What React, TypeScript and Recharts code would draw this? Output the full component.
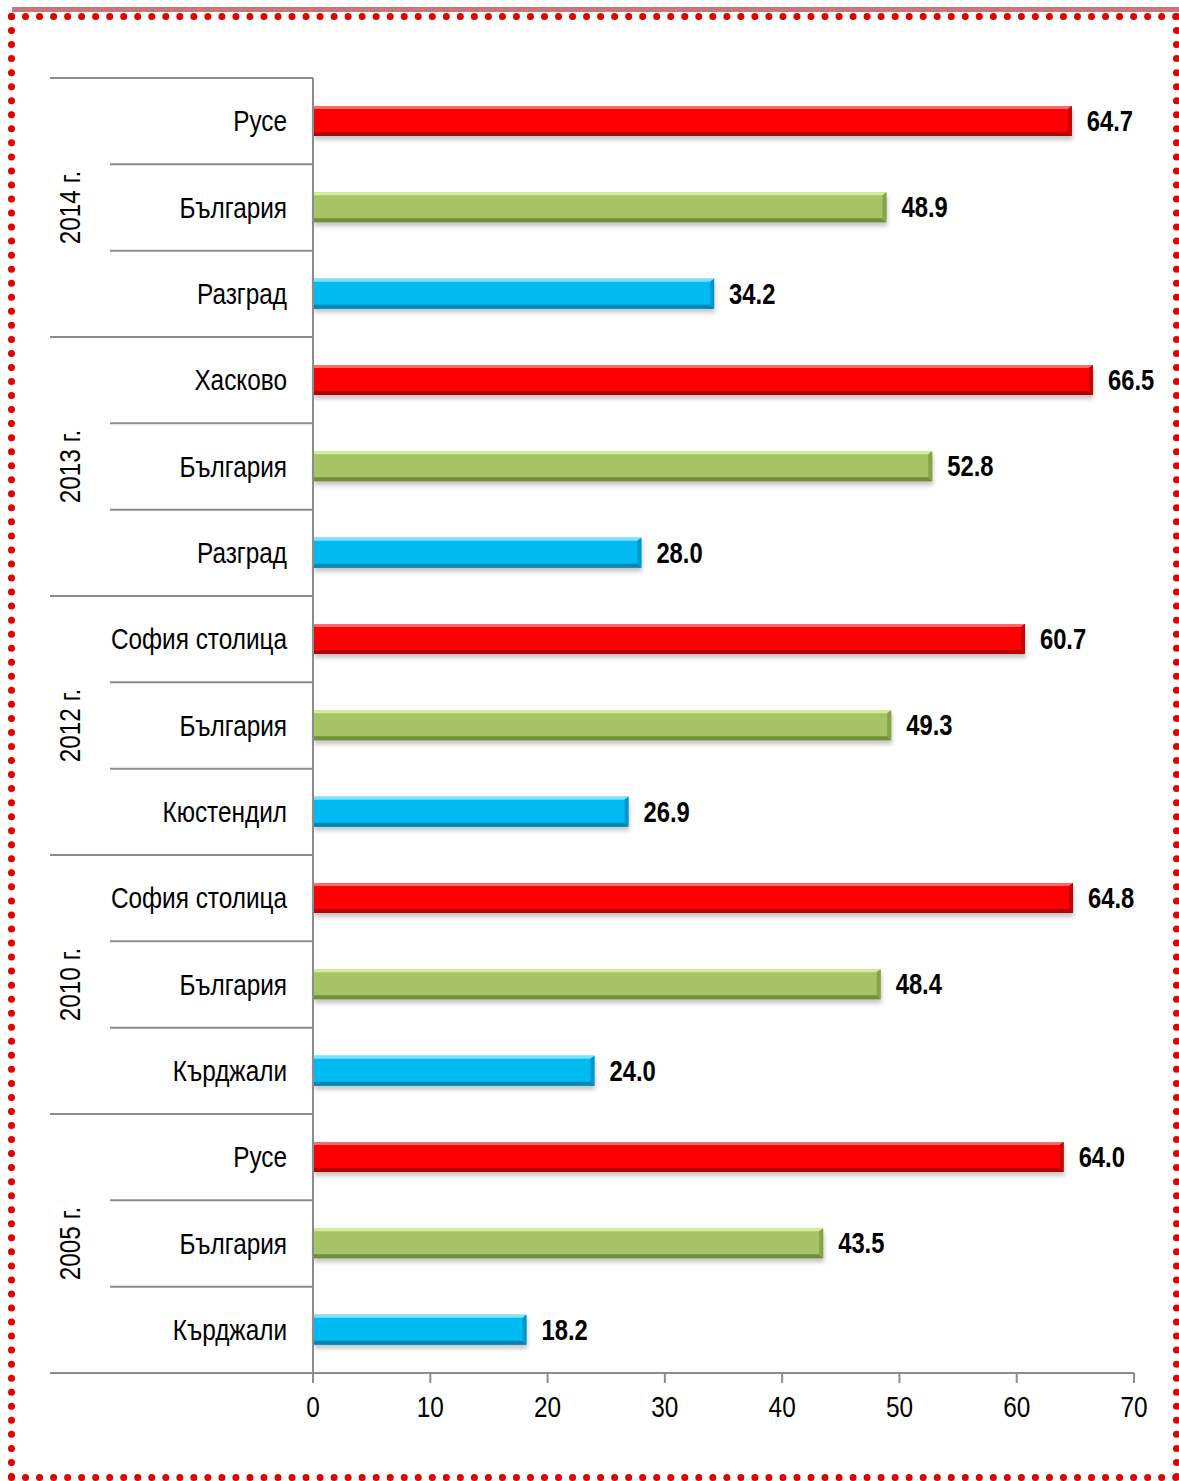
import React from 'react';
import { BarChart, Bar, XAxis, YAxis, Cell, LabelList } from 'recharts';

const categories = [
  'Русе', 'България', 'Разград',
  'Хасково', 'България', 'Разград',
  'София столица', 'България', 'Кюстендил',
  'София столица', 'България', 'Кърджали',
  'Русе', 'България', 'Кърджали',
];
const years = ['2014 г.', '2013 г.', '2012 г.', '2010 г.', '2005 г.'];
const values = [64.7, 48.9, 34.2, 66.5, 52.8, 28.0, 60.7, 49.3, 26.9, 64.8, 48.4, 24.0, 64.0, 43.5, 18.2];
const xTicks = [0, 10, 20, 30, 40, 50, 60, 70];

const W = 1179;
const H = 1481;
const X_AXIS_H = 60;
const M = { top: 78, right: 45, bottom: 108 - X_AXIS_H, left: 50 };
const AXIS_W = 263;
const PLOT_H = H - M.top - 108;
const BAND = PLOT_H / categories.length;
const AXIS_X = M.left + AXIS_W;
const FONT = '"Liberation Sans", Arial, sans-serif';
const FS = 29;
const GRAY = '#8c8c8c';

// main, light top, dark bottom/end
const palette = [
  { main: '#ff0000', light: '#ff6a6a', dark: '#b30000', end: '#c80000' },
  { main: '#a6c465', light: '#d4ec9e', dark: '#748f3c', end: '#86a34a' },
  { main: '#00bbf2', light: '#7fe0ff', dark: '#0085b5', end: '#0098cc' },
];

const data = categories.map((name, i) => ({ key: String(i), name, value: values[i] }));

// Arial Narrow look-alike: regular sans squeezed horizontally
const NarrowText = ({ x, y, rotate = 0, anchor = 'start', bold = false, children }: any) => (
  <text
    transform={`translate(${x} ${y}) rotate(${rotate}) scale(${bold ? 0.82 : 0.84} 1)`}
    x={0}
    y={0}
    textAnchor={anchor}
    fontSize={FS}
    fontWeight={bold ? 'bold' : 'normal'}
    fontFamily={FONT}
    fill="#000"
  >
    {children}
  </text>
);

const CatTick = (props: any) => {
  const { y, payload } = props;
  const i = Number(payload.value);
  const top = y - BAND / 2;
  const bottom = y + BAND / 2;
  const group = i % 3 === 0;
  return (
    <g>
      <line x1={group ? M.left : 110} x2={AXIS_X} y1={top} y2={top} stroke={GRAY} strokeWidth={2} />
      {i === categories.length - 1 && (
        <line x1={M.left} x2={AXIS_X} y1={bottom} y2={bottom} stroke={GRAY} strokeWidth={2} />
      )}
      <NarrowText x={AXIS_X - 26} y={y + 10} anchor="end">
        {categories[i]}
      </NarrowText>
      {i % 3 === 1 && (
        <NarrowText x={80} y={y} rotate={-90} anchor="middle">
          {years[Math.floor(i / 3)]}
        </NarrowText>
      )}
    </g>
  );
};

const ValTick = (props: any) => {
  const { x, y, payload } = props;
  return (
    <NarrowText x={x} y={y + 24} anchor="middle">
      {payload.value}
    </NarrowText>
  );
};

const ValueLabel = (props: any) => {
  const { x, y, width, height, value } = props;
  return (
    <NarrowText x={x + width + 15} y={y + height / 2 + 10} bold>
      {Number(value).toFixed(1)}
    </NarrowText>
  );
};

const BevelBar = (props: any) => {
  const { x, y, width, height, index } = props;
  const c = palette[index % 3];
  const b = 4;
  const r = x + width;
  const bt = y + height;
  return (
    <g>
      <rect x={x + 1} y={y + 4} width={width} height={height} fill="#000" opacity={0.22} filter="url(#shadow)" />
      <rect x={x} y={y} width={width} height={height} fill={c.main} />
      <polygon points={`${x},${y} ${r},${y} ${r - b},${y + 3} ${x},${y + 3}`} fill={c.light} />
      <polygon points={`${x},${bt} ${r},${bt} ${r - b},${bt - b} ${x},${bt - b}`} fill={c.dark} />
      <polygon points={`${r},${y} ${r},${bt} ${r - b},${bt - b} ${r - b},${y + 3}`} fill={c.end} />
    </g>
  );
};

export default function App() {
  return (
    <div style={{ position: 'absolute', left: 0, top: 0, width: W, height: H, background: '#fff' }}>
      <div style={{ position: 'absolute', left: 12, top: 7, width: 1167, height: 5, background: '#c47a7a' }} />
      <div
        style={{
          position: 'absolute',
          left: 8,
          top: 13,
          width: 1158,
          height: 1454,
          border: '7px dotted #e00000',
        }}
      />
      <div style={{ position: 'absolute', left: 0, top: 0 }}>
        <BarChart width={W} height={H} data={data} layout="vertical" margin={M}>
          <defs>
            <filter id="shadow" x="-5%" y="-50%" width="110%" height="200%">
              <feGaussianBlur stdDeviation="2" />
            </filter>
          </defs>
          <XAxis
            type="number"
            domain={[0, 70]}
            ticks={xTicks}
            interval={0}
            height={X_AXIS_H}
            axisLine={{ stroke: GRAY, strokeWidth: 2 }}
            tickLine={{ stroke: GRAY, strokeWidth: 2 }}
            tickSize={10}
            tickMargin={10}
            tick={<ValTick />}
          />
          <YAxis
            type="category"
            dataKey="key"
            width={AXIS_W}
            interval={0}
            axisLine={{ stroke: GRAY, strokeWidth: 2 }}
            tickLine={false}
            tick={<CatTick />}
          />
          <Bar dataKey="value" barSize={30} shape={<BevelBar />} isAnimationActive={false}>
            {data.map((d, i) => (
              <Cell key={d.key} fill={palette[i % 3].main} />
            ))}
            <LabelList dataKey="value" content={<ValueLabel />} />
          </Bar>
        </BarChart>
      </div>
    </div>
  );
}
